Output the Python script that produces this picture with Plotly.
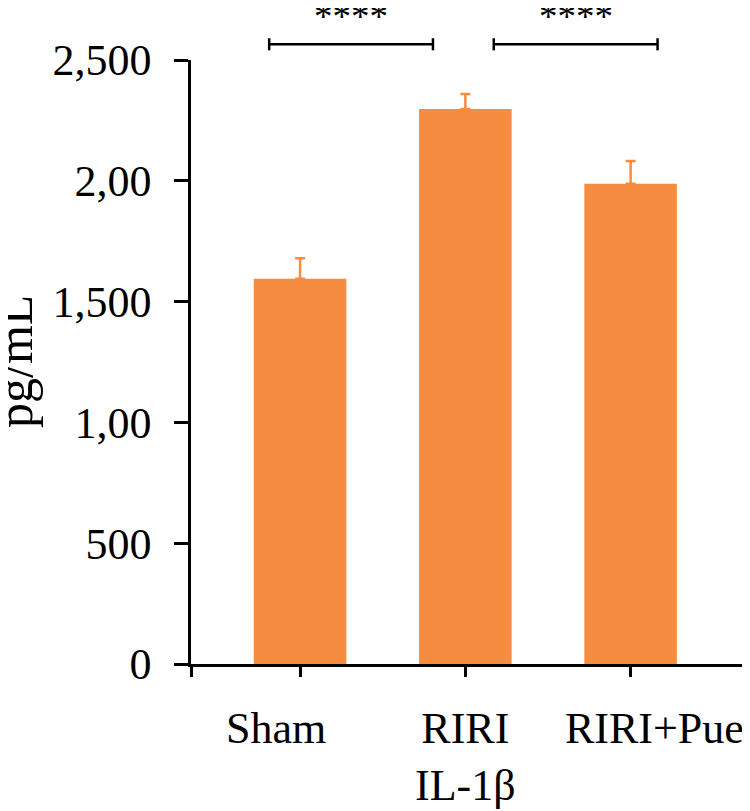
import plotly.graph_objects as go

groups = ["Sham", "RIRI<br>IL-1β", "RIRI+Pue"]
means = [1595, 2297, 1988]
errors = [84, 62, 94]

# y tick labels exactly as printed in the figure
y_ticks = [0, 500, 1000, 1500, 2000, 2500]
y_tick_text = ["0", "500", "1,00", "1,500", "2,00", "2,500"]

# significance comparisons: (from x, to x, label)
comparisons = [(-0.187, 0.804, "****"), (1.172, 2.163, "****")]

x_pos = list(range(len(groups)))
label_shift = [-24, 0, 24]

FONT = "Liberation Serif"
ORANGE = "#F58C3F"

fig = go.Figure()
fig.add_trace(go.Bar(
    x=x_pos,
    y=means,
    width=0.56,
    marker=dict(color=ORANGE, line=dict(width=0)),
    error_y=dict(type="data", array=errors, symmetric=False, arrayminus=[0] * 3,
                 color=ORANGE, thickness=2.5, width=5),
))

# x labels as annotations so they can sit where the figure puts them
for xp, name, sh in zip(x_pos, groups, label_shift):
    fig.add_annotation(x=xp, y=0, xref="x", yref="paper", text=name, showarrow=False,
                       xanchor="center", yanchor="top", yshift=-38, xshift=sh,
                       font=dict(family=FONT, size=44, color="black"))

# brackets and stars above the plot
for x0, x1, lab in comparisons:
    fig.add_shape(type="line", x0=x0, x1=x1, y0=1.026, y1=1.026, xref="x", yref="paper",
                  line=dict(color="black", width=2.5))
    for xe in (x0, x1):
        fig.add_shape(type="line", x0=xe, x1=xe, y0=1.016, y1=1.036, xref="x", yref="paper",
                      line=dict(color="black", width=2.5))
    fig.add_annotation(x=(x0 + x1) / 2, y=1.026, xref="x", yref="paper", text=lab,
                       showarrow=False, xanchor="center", yanchor="bottom", yshift=5,
                       font=dict(family=FONT, size=37, color="black"))

# y title as a rotated annotation, left of the tick labels
fig.add_annotation(x=0, y=0.5, xref="paper", yref="paper", text="pg/mL", textangle=-90,
                   showarrow=False, xanchor="center", yanchor="middle", xshift=-176,
                   font=dict(family=FONT, size=50, color="black"))

# page body has an 8px margin, so the figure is 8px smaller than the window
fig.update_layout(
    width=742, height=803, autosize=False,
    margin=dict(l=183, r=7, t=52, b=147),
    plot_bgcolor="white", paper_bgcolor="white",
    showlegend=False,
    font=dict(family=FONT, size=44, color="black"),
)
fig.update_xaxes(range=[-0.66, 2.68], tickvals=[-0.66, 0, 1, 2, 2.68], ticktext=[""] * 5,
                 ticks="outside", ticklen=10, tickwidth=2.5, tickcolor="black",
                 showline=True, linewidth=2.5, linecolor="black", showgrid=False,
                 zeroline=False, automargin=False)
fig.update_yaxes(range=[0, 2500], tickvals=y_ticks, ticktext=y_tick_text,
                 ticks="outside", ticklen=14, tickwidth=2.5, tickcolor="black",
                 ticklabelstandoff=14, automargin=False,
                 showline=True, linewidth=2.5, linecolor="black", showgrid=False,
                 zeroline=False, tickfont=dict(family=FONT, size=44))

fig.write_html("out.html")
